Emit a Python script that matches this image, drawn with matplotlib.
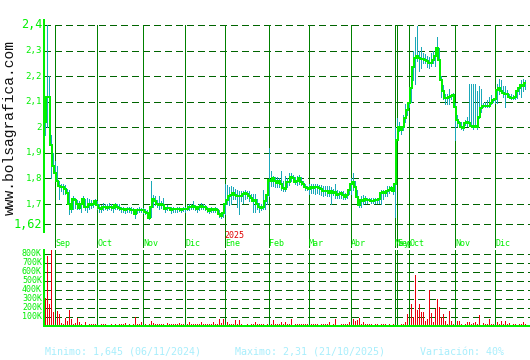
import matplotlib
matplotlib.use('Agg')
import matplotlib.pyplot as plt
import matplotlib.transforms as mtransforms
from matplotlib.lines import Line2D
import numpy as np

# months shown on the x axis (trading days per month)
month_names = ['Ago', 'Sep', 'Oct', 'Nov', 'Dic', 'Ene', 'Feb', 'Mar', 'Abr',
               'May', 'Sep', 'Oct', 'Nov', 'Dic']
month_days = [5, 21, 23, 21, 20, 22, 20, 21, 22, 1, 6, 23, 20, 16]

close = [
    2.02, 2.12, 2.12, 1.93, 1.85,
    1.82, 1.79, 1.77, 1.765, 1.765, 1.76, 1.745, 1.70, 1.68, 1.72, 1.715, 1.70, 1.685, 1.70, 1.72, 1.69, 1.69, 1.70, 1.695, 1.70, 1.71,
    1.695, 1.685, 1.68, 1.69, 1.69, 1.685, 1.69, 1.69, 1.685, 1.695, 1.69, 1.685, 1.68, 1.68, 1.675, 1.68, 1.68, 1.678, 1.675, 1.66, 1.675, 1.678, 1.678,
    1.675, 1.67, 1.665, 1.645, 1.69, 1.72, 1.71, 1.70, 1.695, 1.70, 1.695, 1.68, 1.685, 1.685, 1.676, 1.68, 1.68, 1.68, 1.682, 1.676, 1.68,
    1.68, 1.682, 1.688, 1.69, 1.692, 1.688, 1.68, 1.69, 1.692, 1.69, 1.688, 1.68, 1.674, 1.68, 1.678, 1.682, 1.678, 1.66, 1.653, 1.665,
    1.70, 1.715, 1.73, 1.735, 1.743, 1.735, 1.73, 1.73, 1.732, 1.74, 1.742, 1.74, 1.73, 1.723, 1.71, 1.716, 1.70, 1.69, 1.685, 1.69, 1.71, 1.735,
    1.794, 1.79, 1.80, 1.79, 1.782, 1.79, 1.78, 1.763, 1.76, 1.785, 1.787, 1.807, 1.80, 1.787, 1.79, 1.80, 1.787, 1.78, 1.768, 1.763,
    1.76, 1.765, 1.763, 1.768, 1.765, 1.763, 1.76, 1.752, 1.75, 1.75, 1.743, 1.75, 1.743, 1.746, 1.735, 1.74, 1.743, 1.735, 1.729, 1.735, 1.755,
    1.78, 1.786, 1.768, 1.729, 1.696, 1.716, 1.71, 1.72, 1.716, 1.716, 1.712, 1.712, 1.716, 1.716, 1.72, 1.743, 1.746, 1.743, 1.75, 1.755, 1.763, 1.75,
    1.78,
    1.95, 2.0, 1.99, 2.0, 2.035, 2.067,
    2.095, 2.153, 2.236, 2.27, 2.28, 2.27, 2.267, 2.267, 2.263, 2.26, 2.25, 2.25, 2.263, 2.28, 2.31, 2.263, 2.185, 2.14, 2.114, 2.114, 2.12, 2.122, 2.126,
    2.08, 2.03, 2.016, 2.0, 1.997, 2.016, 2.02, 2.018, 2.005, 2.0, 2.005, 2.0, 2.04, 2.075, 2.085, 2.085, 2.085, 2.085, 2.095, 2.106,
    2.11, 2.146, 2.153, 2.14, 2.135, 2.13, 2.13, 2.12, 2.115, 2.114, 2.12, 2.14, 2.153, 2.165, 2.16, 2.175,
]

high = [
    2.06, 2.40, 2.20, 1.97, 1.90,
    1.87, 1.85, 1.79, 1.78, 1.78, 1.775, 1.76, 1.755, 1.72, 1.73, 1.725, 1.715, 1.71, 1.72, 1.73, 1.72, 1.725, 1.72, 1.715, 1.715, 1.72,
    1.71, 1.70, 1.695, 1.705, 1.70, 1.70, 1.705, 1.70, 1.70, 1.705, 1.70, 1.70, 1.69, 1.69, 1.685, 1.69, 1.69, 1.69, 1.685, 1.68, 1.685, 1.69, 1.685,
    1.685, 1.68, 1.675, 1.665, 1.79, 1.735, 1.73, 1.715, 1.73, 1.71, 1.725, 1.69, 1.695, 1.69, 1.69, 1.69, 1.685, 1.69, 1.69, 1.685, 1.69,
    1.69, 1.695, 1.70, 1.70, 1.71, 1.695, 1.69, 1.70, 1.705, 1.70, 1.695, 1.69, 1.685, 1.69, 1.685, 1.69, 1.685, 1.675, 1.665, 1.69,
    1.78, 1.775, 1.765, 1.77, 1.765, 1.76, 1.755, 1.75, 1.75, 1.752, 1.755, 1.75, 1.75, 1.74, 1.74, 1.74, 1.72, 1.705, 1.70, 1.755, 1.73, 1.76,
    1.92, 1.83, 1.81, 1.805, 1.805, 1.80, 1.83, 1.79, 1.81, 1.80, 1.82, 1.82, 1.815, 1.805, 1.81, 1.815, 1.805, 1.79, 1.78, 1.77,
    1.78, 1.78, 1.78, 1.78, 1.78, 1.775, 1.775, 1.77, 1.77, 1.77, 1.77, 1.765, 1.76, 1.78, 1.755, 1.75, 1.75, 1.75, 1.745, 1.755, 1.78,
    1.80, 1.82, 1.79, 1.755, 1.715, 1.73, 1.735, 1.73, 1.725, 1.725, 1.725, 1.725, 1.725, 1.725, 1.74, 1.755, 1.755, 1.755, 1.77, 1.77, 1.77, 1.765,
    2.0,
    2.035, 2.02, 2.005, 2.05, 2.09, 2.10,
    2.11, 2.165, 2.30, 2.355, 2.395, 2.30, 2.315, 2.29, 2.285, 2.28, 2.275, 2.29, 2.30, 2.305, 2.355, 2.31, 2.20, 2.165, 2.13, 2.13, 2.15, 2.13, 2.135,
    2.095, 2.05, 2.025, 2.02, 2.005, 2.03, 2.04, 2.17, 2.17, 2.17, 2.17, 2.14, 2.16, 2.15, 2.095, 2.10, 2.105, 2.12, 2.125, 2.115,
    2.12, 2.17, 2.19, 2.185, 2.16, 2.16, 2.145, 2.13, 2.13, 2.125, 2.125, 2.145, 2.16, 2.185, 2.19, 2.185,
]

low = [
    1.97, 2.00, 2.05, 1.80, 1.82,
    1.80, 1.77, 1.72, 1.75, 1.74, 1.74, 1.70, 1.66, 1.67, 1.68, 1.685, 1.68, 1.68, 1.67, 1.69, 1.675, 1.67, 1.68, 1.685, 1.69, 1.695,
    1.68, 1.67, 1.67, 1.675, 1.68, 1.675, 1.68, 1.675, 1.67, 1.68, 1.68, 1.675, 1.67, 1.67, 1.665, 1.67, 1.67, 1.665, 1.665, 1.645, 1.665, 1.67, 1.67,
    1.665, 1.66, 1.655, 1.64, 1.65, 1.69, 1.695, 1.69, 1.68, 1.685, 1.68, 1.67, 1.675, 1.675, 1.665, 1.67, 1.67, 1.67, 1.672, 1.668, 1.672,
    1.67, 1.675, 1.675, 1.68, 1.68, 1.675, 1.67, 1.675, 1.68, 1.68, 1.675, 1.67, 1.665, 1.67, 1.668, 1.67, 1.665, 1.65, 1.645, 1.65,
    1.66, 1.70, 1.695, 1.70, 1.72, 1.72, 1.69, 1.66, 1.71, 1.705, 1.72, 1.725, 1.71, 1.71, 1.67, 1.67, 1.68, 1.67, 1.675, 1.68, 1.68, 1.70,
    1.73, 1.77, 1.77, 1.765, 1.765, 1.765, 1.755, 1.75, 1.75, 1.765, 1.775, 1.79, 1.785, 1.78, 1.775, 1.78, 1.775, 1.77, 1.755, 1.755,
    1.74, 1.745, 1.745, 1.74, 1.745, 1.74, 1.735, 1.73, 1.735, 1.73, 1.73, 1.70, 1.735, 1.725, 1.725, 1.725, 1.725, 1.72, 1.72, 1.725, 1.74,
    1.74, 1.755, 1.75, 1.70, 1.69, 1.69, 1.70, 1.705, 1.705, 1.71, 1.705, 1.705, 1.705, 1.705, 1.705, 1.70, 1.72, 1.73, 1.73, 1.745, 1.75, 1.74,
    1.65,
    1.95, 1.985, 1.975, 1.99, 2.02, 2.05,
    2.08, 2.10, 2.185, 2.17, 2.26, 2.22, 2.23, 2.25, 2.25, 2.235, 2.23, 2.24, 2.25, 2.24, 2.30, 2.185, 2.12, 2.11, 2.09, 2.09, 2.09, 2.11, 2.115,
    1.95, 2.005, 2.005, 1.995, 1.99, 2.01, 2.005, 2.01, 2.0, 1.995, 2.0, 1.995, 2.035, 2.06, 2.08, 2.08, 2.08, 2.08, 2.09, 2.10,
    2.095, 2.095, 2.13, 2.135, 2.12, 2.08, 2.12, 2.115, 2.11, 2.11, 2.11, 2.115, 2.13, 2.12, 2.14, 2.15,
]

# volume in thousands
volume = [
    311, 770, 237, 900, 150,
    200, 163, 126, 26, 15, 81, 52, 170, 74, 15, 26, 81, 37, 15, 7, 37, 7, 15, 22, 22, 22,
    20, 7, 15, 15, 22, 7, 7, 15, 7, 15, 7, 15, 22, 22, 30, 7, 15, 7, 22, 100, 15, 15, 37,
    15, 15, 7, 22, 52, 30, 15, 15, 22, 15, 15, 7, 30, 15, 15, 15, 22, 15, 30, 15, 15,
    37, 15, 37, 15, 15, 22, 22, 15, 37, 22, 22, 15, 22, 22, 37, 15, 22, 74, 26, 67,
    30, 37, 15, 22, 15, 59, 15, 59, 22, 7, 7, 15, 7, 15, 15, 37, 22, 15, 15, 15, 7, 22,
    285, 15, 59, 15, 15, 15, 44, 15, 37, 15, 15, 74, 7, 22, 15, 15, 15, 22, 15, 15,
    15, 15, 22, 15, 22, 7, 22, 15, 15, 15, 37, 7, 22, 67, 7, 7, 15, 15, 15, 15, 44,
    37, 74, 52, 59, 81, 22, 37, 22, 15, 15, 15, 7, 22, 22, 7, 22, 15, 22, 7, 22, 5, 15,
    59,
    15, 7, 22, 22, 44, 126,
    40, 237, 96, 563, 170, 237, 148, 155, 52, 74, 400, 137, 44, 181, 300, 204, 96, 126, 52, 15, 163, 52, 15,
    378, 52, 52, 22, 7, 22, 37, 37, 22, 30, 37, 22, 119, 7, 30, 15, 15, 74, 15, 22,
    15, 37, 15, 52, 22, 52, 15, 30, 7, 15, 15, 7, 15, 15, 37, 20,
]

price_ticks = [2.4, 2.3, 2.2, 2.1, 2.0, 1.9, 1.8, 1.7, 1.62]
price_labels = ['2,4', '2,3', '2,2', '2,1', '2', '1,9', '1,8', '1,7', '1,62']
vol_ticks = [800, 700, 600, 500, 400, 300, 200, 100]
vol_labels = ['800K', '700K', '600K', '500K', '400K', '300K', '200K', '100K']

W, H = 530, 360
GREEN = '#00f000'
DARK = '#008000'
GRID = '#006400'
MONO = 'DejaVu Sans Mono'
plt.rcParams['lines.scale_dashes'] = False
DASH = (0, (4.8, 3.0))
PX = 0.72  # one pixel in points


def fx(px):
    return px / W


def fy(py):
    return 1 - py / H


x = np.arange(len(close))
starts = np.cumsum([0] + month_days[:-1])

fig = plt.figure(figsize=(W / 100, H / 100), dpi=100)
fig.patch.set_facecolor('white')

# ---- price panel
ax = fig.add_axes([fx(44), fy(248), fx(530) - fx(44), fy(25) - fy(248)])
ax.set_axis_off()
ax.set_xlim(-0.5, 242.5)
ax.set_ylim(1.528, 2.4)
for v in price_ticks:
    ax.axhline(v, color=GRID, lw=PX, linestyle=DASH, antialiased=False, zorder=1)
for s in starts[1:]:
    ax.axvline(s, color=DARK, lw=PX, antialiased=False, zorder=2)
ax.vlines(x, low, high, color='#1aa8b8', lw=PX, antialiased=False, zorder=3)
ax.plot(x, close, drawstyle='steps-mid', color=GREEN, lw=PX * 1.6,
        antialiased=False, zorder=4)

ylab = mtransforms.blended_transform_factory(fig.transFigure, ax.transData)
for i, (v, lab) in enumerate(zip(price_ticks, price_labels)):
    big = i in (0, len(price_ticks) - 1)
    ax.text(fx(42), v, lab, transform=ylab, ha='right', va='center',
            color=GREEN, family=MONO, fontsize=8.6 if big else 6.6)

# ---- volume panel
av = fig.add_axes([fx(44), fy(325.5), fx(530) - fx(44), fy(250) - fy(325.5)])
av.set_axis_off()
av.set_xlim(-0.5, 242.5)
av.set_ylim(0, 839)
for v in vol_ticks:
    av.axhline(v, color=GRID, lw=PX, linestyle=DASH, antialiased=False, zorder=1)
av.vlines(x, 0, volume, color='#e8000c', lw=PX, antialiased=False, zorder=2)
for s in starts[1:]:
    av.axvline(s, color=DARK, lw=PX, antialiased=False, zorder=3)
vlab = mtransforms.blended_transform_factory(fig.transFigure, av.transData)
for v, lab in zip(vol_ticks, vol_labels):
    av.text(fx(42), v, lab, transform=vlab, ha='right', va='center',
            color=GREEN, family=MONO, fontsize=6)

# axis lines
fig.add_artist(Line2D([fx(44), fx(44)], [fy(20), fy(232)], color=GREEN,
                      lw=PX * 1.5, antialiased=False))
fig.add_artist(Line2D([fx(44), fx(44)], [fy(250), fy(326)], color=GREEN,
                      lw=PX * 1.5, antialiased=False))
fig.add_artist(Line2D([fx(44), fx(530)], [fy(326), fy(326)], color=GREEN,
                      lw=PX * 1.5, antialiased=False))

# month labels
mlab = mtransforms.blended_transform_factory(ax.transData, fig.transFigure)
for s, name in zip(starts[1:], month_names[1:]):
    ax.text(s, fy(244), name, transform=mlab, ha='left', va='center',
            color=GREEN, family=MONO, fontsize=6, clip_on=False)
ax.text(starts[5] - 0.5, fy(236), '2025', transform=mlab, ha='left', va='center',
        color='#e00000', family=MONO, fontsize=6, clip_on=False)

fig.text(fx(10), fy(127), 'www.bolsagrafica.com', rotation=90, ha='center',
         va='center', family='Liberation Mono', fontsize=10.5, color='#111111')

INFO = '#a8eefc'
fig.text(fx(45), fy(352), 'Minimo: 1,645 (06/11/2024)', ha='left', va='center',
         family=MONO, fontsize=7.2, color=INFO)
fig.text(fx(235), fy(352), 'Maximo: 2,31 (21/10/2025)', ha='left', va='center',
         family=MONO, fontsize=7.2, color=INFO)
fig.text(fx(420), fy(352), 'Variación: 40%', ha='left', va='center',
         family=MONO, fontsize=7.2, color=INFO)

fig.savefig('out.png', dpi=100)
